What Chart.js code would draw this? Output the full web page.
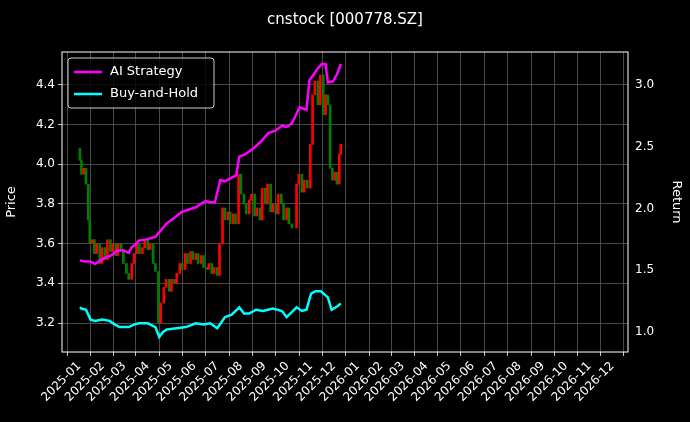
<!DOCTYPE html>
<html><head><meta charset="utf-8">
<script src="https://cdn.jsdelivr.net/npm/chart.js@4/dist/chart.umd.min.js"></script>
<style>html,body{margin:0;background:#000}</style>
</head><body><canvas id="c" width="690" height="422" style="width:690px;height:422px"></canvas>
<script>
// day offsets from 2025-01-01
const priceDays=[1,3,6,9,12,14,17,20,23,27,30,34,37,41,44,48,51,55,58,62,65,69,72,76,79,83,86,90,93,97,100,104,107,111,114,118,121,125,128,132,135,139,142,146,149,153,156,160,163,167,170,174,177,181,184,188,191,195,198,202,205,209,212,216,219,223,226,230,233,237,240,244,247,251,254,258,261,265,268,272,275,279,285,288,292,295,299,303,306,309,313,316,320,323,326,329,332,335,338,341,343];
const priceClose=[4.02,3.95,3.98,3.9,3.72,3.6,3.62,3.55,3.6,3.5,3.58,3.52,3.62,3.56,3.6,3.54,3.6,3.57,3.5,3.45,3.42,3.5,3.55,3.6,3.55,3.58,3.62,3.57,3.6,3.5,3.46,3.2,3.3,3.38,3.42,3.36,3.42,3.4,3.45,3.5,3.47,3.55,3.5,3.56,3.52,3.55,3.5,3.54,3.48,3.47,3.5,3.45,3.48,3.44,3.6,3.78,3.72,3.76,3.7,3.75,3.7,3.95,3.85,3.8,3.75,3.82,3.85,3.74,3.78,3.72,3.88,3.8,3.9,3.76,3.8,3.75,3.85,3.8,3.72,3.78,3.7,3.68,3.9,3.95,3.86,3.92,3.88,4.1,4.35,4.42,4.3,4.45,4.25,4.35,4.3,3.98,3.92,3.96,3.9,4.05,4.1];
const firstOpen=4.08;
const stratDays=[1,8,15,21,28,34,42,50,58,65,68,74,78,88,100,108,115,124,134,143,153,160,166,172,178,185,191,197,206,210,218,229,238,248,257,266,272,279,289,298,302,307,311,318,323,326,333,339,343];
const stratRet=[1.58,1.57,1.57,1.55,1.58,1.6,1.62,1.66,1.66,1.64,1.68,1.71,1.74,1.75,1.77,1.83,1.88,1.92,1.97,1.99,2.01,2.04,2.06,2.05,2.05,2.23,2.22,2.24,2.27,2.42,2.44,2.49,2.54,2.61,2.63,2.67,2.66,2.69,2.82,2.8,3.04,3.08,3.12,3.17,3.17,3.02,3.03,3.1,3.17];
const bhDays=[1,3,9,15,21,30,40,47,53,65,72,78,90,100,105,110,115,128,140,153,163,172,181,191,200,210,216,223,232,241,254,266,272,285,292,298,304,310,317,326,331,339,343];
const bhRet=[1.2,1.19,1.18,1.1,1.09,1.1,1.09,1.06,1.04,1.04,1.06,1.07,1.07,1.04,0.96,1.0,1.02,1.03,1.04,1.07,1.06,1.07,1.03,1.12,1.14,1.2,1.15,1.15,1.18,1.17,1.19,1.17,1.12,1.2,1.17,1.18,1.31,1.33,1.33,1.28,1.18,1.21,1.23];
const leftTicks=[3.2,3.4,3.6,3.8,4.0,4.2,4.4];
const rightTicks=[1.0,1.5,2.0,2.5,3.0];

const base=Date.UTC(2025,0,1),DAY=86400000;
const monthTicks=[],monthLabels={};
for(let y=2025;y<=2026;y++)for(let m=0;m<12;m++){const d=(Date.UTC(y,m,1)-base)/DAY;monthTicks.push(d);monthLabels[d]=y+'-'+String(m+1).padStart(2,'0');}
const candles=priceDays.map((d,i)=>{const o=i?priceClose[i-1]:firstOpen;return{x:d,y:[o,priceClose[i]]};});
const cols=candles.map(c=>c.y[1]>=c.y[0]?'#ff0000':'#008000');
const grid={color:'#5a5a5a',borderDash:[2,2],lineWidth:0.8,drawTicks:true,tickColor:'#fff',tickLength:4,tickBorderDash:[]};
const legendPlug={id:'lg',afterDraw(ch){const c=ch.ctx,a=ch.chartArea;c.save();
 c.fillStyle='#fff';c.font='15px "DejaVu Sans"';c.textAlign='center';c.fillText('cnstock [000778.SZ]',345,24);
 c.strokeStyle='#fff';c.lineWidth=1;c.setLineDash([]);c.strokeRect(a.left,a.top,a.right-a.left,a.bottom-a.top);
 const x=a.left+6,y=a.top+6;c.fillStyle='rgba(0,0,0,0.8)';c.strokeStyle='#ccc';
 c.beginPath();c.roundRect(x,y,146,50,3);c.fill();c.stroke();
 c.font='13px "DejaVu Sans"';c.textAlign='left';c.textBaseline='middle';
 [['AI Strategy','#ff00ff',y+14],['Buy-and-Hold','#00ffff',y+36]].forEach(([t,col,yy])=>{c.strokeStyle=col;c.lineWidth=2.5;c.beginPath();c.moveTo(x+6,yy);c.lineTo(x+34,yy);c.stroke();c.fillStyle='#fff';c.fillText(t,x+42,yy);});
 c.restore();}};
new Chart(document.getElementById('c'),{
 type:'bar',
 data:{datasets:[
  {type:'line',label:'AI Strategy',data:stratDays.map((d,i)=>({x:d,y:stratRet[i]})),borderColor:'#ff00ff',borderWidth:2.5,pointRadius:0,yAxisID:'y1',order:0},
  {type:'line',label:'Buy-and-Hold',data:bhDays.map((d,i)=>({x:d,y:bhRet[i]})),borderColor:'#00ffff',borderWidth:2.5,pointRadius:0,yAxisID:'y1',order:0},
  {label:'price',data:candles,backgroundColor:cols,borderWidth:0,barThickness:2,yAxisID:'y',order:1}
 ]},
 options:{responsive:false,animation:false,maintainAspectRatio:false,devicePixelRatio:1,
  layout:{padding:{top:52,left:4,right:4,bottom:0}},
  plugins:{legend:{display:false},title:{display:false},tooltip:{enabled:false}},
  scales:{
   x:{type:'linear',min:-7,max:704,grid,border:{display:false},
     afterBuildTicks(s){s.ticks=monthTicks.map(v=>({value:v}));},
     afterFit(s){s.height=70;},
     ticks:{color:'#fff',font:{size:12,family:'DejaVu Sans'},minRotation:45,maxRotation:45,autoSkip:false,callback:v=>monthLabels[v]||''}},
   y:{position:'left',min:3.054,max:4.566,grid,border:{display:false},
     afterBuildTicks(s){s.ticks=leftTicks.map(v=>({value:v}));},
     afterFit(s){s.width=58;},
     title:{display:true,text:'Price',color:'#fff',font:{size:13,family:'DejaVu Sans'},padding:{top:0,bottom:2}},
     ticks:{color:'#fff',font:{size:12,family:'DejaVu Sans'},callback:v=>v.toFixed(1)}},
   y1:{position:'right',min:0.838,max:3.267,grid:{display:false,drawTicks:true,tickColor:'#fff',tickLength:4},border:{display:false},
     afterBuildTicks(s){s.ticks=rightTicks.map(v=>({value:v}));},
     afterFit(s){s.width=58;},
     title:{display:true,text:'Return',color:'#fff',font:{size:13,family:'DejaVu Sans'},padding:{top:2,bottom:0}},
     ticks:{color:'#fff',font:{size:12,family:'DejaVu Sans'},callback:v=>v.toFixed(1)}}
  }},
 plugins:[legendPlug]
});
</script>
</body></html>
